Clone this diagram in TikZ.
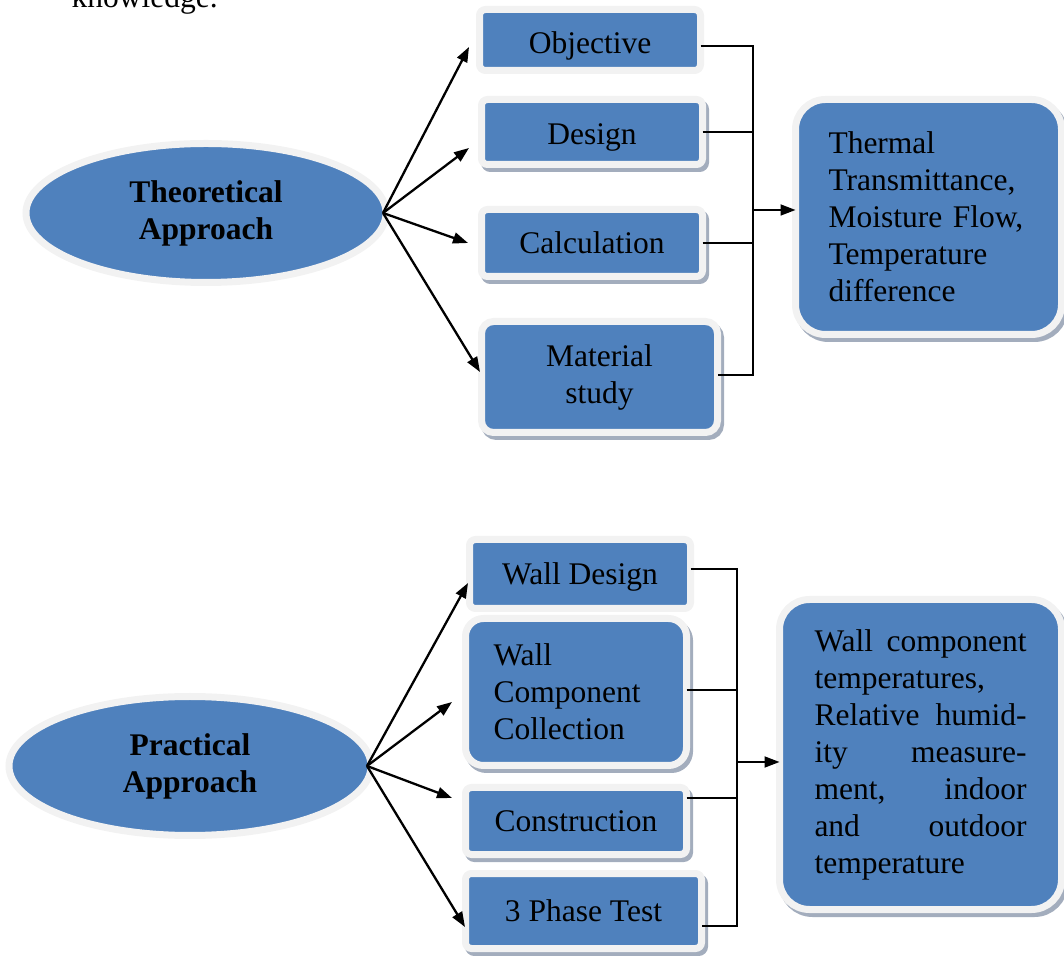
\documentclass[tikz,border=0pt]{standalone}
\usepackage{fontspec}
\setmainfont{Liberation Serif}
\usetikzlibrary{arrows.meta,shapes.geometric,shadows}
\definecolor{boxblue}{HTML}{4F81BD}
\definecolor{rimgray}{HTML}{F2F2F2}
\definecolor{shadegray}{HTML}{A3ADBD}
\newcommand\fullline[2]{\makebox[212pt][l]{#1\hfill#2}}
\begin{document}
\begin{tikzpicture}[x=1pt,y=1pt,
  txt/.style={font=\fontsize{31.5}{37}\selectfont},
  approach/.style={ellipse,draw=rimgray,line width=7pt,fill=boxblue,inner sep=0pt,outer sep=0pt,
    font=\fontsize{31.5}{37}\selectfont\bfseries,align=center},
  stepbox/.style={rectangle,rounded corners=6pt,draw=rimgray,line width=7pt,fill=boxblue,
    inner sep=0pt,outer sep=0pt,font=\fontsize{31.5}{37}\selectfont,align=center},
  shade/.style={copy shadow={shadow xshift=3pt,shadow yshift=-4pt,draw=shadegray,fill=shadegray}},
  link/.style={line width=2.3pt,-{Triangle[length=15pt,width=11pt]}},
  bracket/.style={line width=1.8pt}]
\path[use as bounding box,clip] (0,0) rectangle (1064,955);

\node[txt,anchor=base west] (prevline) at (68,947) {knowledge.};

\node[approach,minimum width=360,minimum height=139] (theo) at (206,742) {Theoretical\\Approach};
\coordinate (theotip) at ([xshift=-3pt]theo.east);

\node[stepbox,text height=34pt,minimum width=221,minimum height=61] (obj) at (590,915) {Objective};
\node[stepbox,shade,text height=32pt,minimum width=221,minimum height=65] (des) at (592,823) {Design};
\node[stepbox,shade,minimum width=221,minimum height=67] (calc) at (592,712) {Calculation};
\node[stepbox,shade,rounded corners=12pt,minimum width=236,minimum height=111] (mat) at (599.5,578) {Material\\study};
\node[stepbox,shade,rounded corners=30pt,minimum width=266,minimum height=235,
  text width=200,align=left] (thermal) at (928.5,738)
  {Thermal\\Transmittance,\\Moisture Flow,\\Temperature\\difference};

\draw[link] (theotip) -- ([shift={(-10.5,-7)}]obj.west);
\draw[link] (theotip) -- ([shift={(-12.5,-16)}]des.west);
\draw[link] (theotip) -- ([shift={(-13.5,0)}]calc.west);
\draw[link] (theotip) -- ([shift={(-1.5,5)}]mat.west);

\coordinate (topbus) at (753,0);
\coordinate (objout) at ([yshift=-6pt]obj.east);
\coordinate (matout) at ([yshift=2pt]mat.east);
\coordinate (thermalin) at ([yshift=7pt]thermal.west);
\draw[bracket] (objout) -| (topbus |- matout) -- (matout);
\draw[bracket] (des.east) -- (des.east -| topbus);
\draw[bracket] (calc.east) -- (calc.east -| topbus);
\draw[link,line width=1.8pt] (topbus |- thermalin) -- (thermalin);

\node[approach,minimum width=362,minimum height=139] (prac) at (190,189) {Practical\\Approach};
\coordinate (practip) at ([xshift=-4pt]prac.east);

\node[stepbox,text height=27pt,minimum width=221,minimum height=69] (wdes) at (580,381) {Wall Design};
\node[stepbox,shade,rounded corners=18pt,minimum width=221,minimum height=147,
  text width=165,align=left] (wcomp) at (576,263) {Wall\\Component\\Collection};
\node[stepbox,shade,minimum width=221,minimum height=67] (cons) at (576,134) {Construction};
\node[stepbox,shade,minimum width=236,minimum height=75] (phase) at (583.5,44) {3 Phase Test};
\node[stepbox,shade,rounded corners=30pt,minimum width=282,minimum height=310,
  text width=212,align=left] (wallout) at (920.5,200.5)
  {\fullline{Wall}{component}\\temperatures,\\\fullline{Relative}{humid-}\\\fullline{ity}{measure-}\\
   \fullline{ment,}{indoor}\\\fullline{and}{outdoor}\\temperature};

\draw[link] (practip) -- ([shift={(-1.5,-9)}]wdes.west);
\draw[link] (practip) -- ([shift={(-13.5,-10)}]wcomp.west);
\draw[link] (practip) -- ([shift={(-13.5,23)}]cons.west);
\draw[link] (practip) -- ([shift={(-0.5,-16)}]phase.west);

\coordinate (lowbus) at (737,0);
\coordinate (wdesout) at ([yshift=5pt]wdes.east);
\coordinate (wcompout) at ([yshift=2pt]wcomp.east);
\coordinate (consout) at ([yshift=23pt]cons.east);
\coordinate (phaseout) at ([yshift=-15pt]phase.east);
\coordinate (walloutin) at ([yshift=-7.5pt]wallout.west);
\draw[bracket] (wdesout) -| (lowbus |- phaseout) -- (phaseout);
\draw[bracket] (wcompout) -- (wcompout -| lowbus);
\draw[bracket] (consout) -- (consout -| lowbus);
\draw[link,line width=1.8pt] (lowbus |- walloutin) -- (walloutin);
\end{tikzpicture}
\end{document}
